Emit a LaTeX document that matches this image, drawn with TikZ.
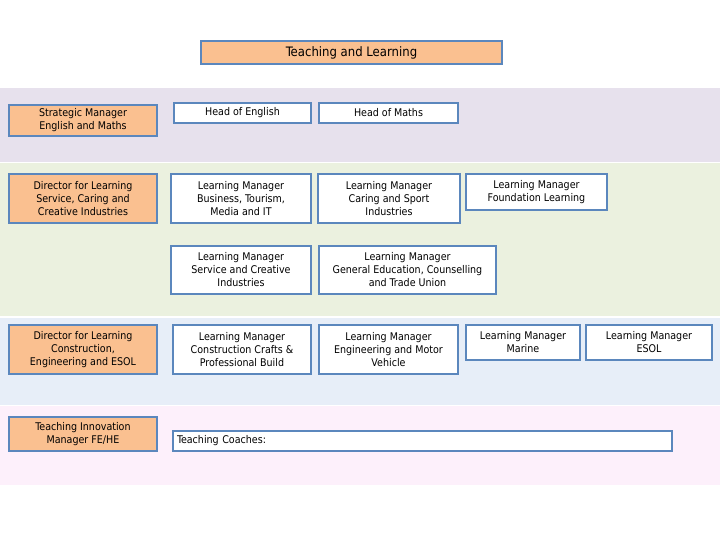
\documentclass[tikz,border=0pt]{standalone}
\usepackage{fontspec}
\setmainfont{DejaVu Sans Condensed}
\definecolor{edge}{HTML}{5B87BD}
\definecolor{peach}{HTML}{FAC090}
\definecolor{lavender}{HTML}{E7E1ED}
\definecolor{mint}{HTML}{EBF1DF}
\definecolor{skyband}{HTML}{E7EEF8}
\definecolor{pinkband}{HTML}{FDF0FB}
\tikzset{
  box/.style={draw=edge, line width=1.2pt, fill=white, align=center, inner sep=1pt,
    font=\fontsize{10.6}{13}\selectfont},
  lead/.style={box, fill=peach},
  band/.style={draw=none}
}
\begin{document}
\begin{tikzpicture}[x=1pt, y=-1pt]
  \useasboundingbox (0,0) rectangle (720,540);
  % background bands
  \fill[lavender] (0,88) rectangle (720,162);
  \fill[mint] (0,163) rectangle (720,316);
  \fill[skyband] (0,318) rectangle (720,405);
  \fill[pinkband] (0,406) rectangle (720,485);

  % title
  \node[lead, minimum width=301, minimum height=23, font=\fontsize{13}{15}\selectfont] (title) at (351.5,52.5) {Teaching and Learning};

  % left column
  \node[lead, minimum width=148, minimum height=31] (strategic) at (83,120.5) {Strategic Manager\\English and Maths};
  \node[lead, minimum width=148, minimum height=49] (dirservice) at (83,198.5) {Director for Learning\\Service, Caring and\\Creative Industries};
  \node[lead, minimum width=148, minimum height=49] (dirconstr) at (83,349.5) {Director for Learning\\Construction,\\Engineering and ESOL};
  \node[lead, minimum width=148, minimum height=34] (innovation) at (83,434) {Teaching Innovation\\Manager FE/HE};

  % first band
  \node[box, minimum width=137, minimum height=20] (english) at (242.5,113) {Head of English};
  \node[box, minimum width=139, minimum height=20] (maths) at (388.5,113) {Head of Maths};

  % second band
  \node[box, minimum width=140, minimum height=49] (business) at (241,198.5) {Learning Manager\\Business, Tourism,\\Media and IT};
  \node[box, minimum width=142, minimum height=49] (caring) at (389,198.5) {Learning Manager\\Caring and Sport\\Industries};
  \node[box, minimum width=141, minimum height=36] (foundation) at (536.5,192) {Learning Manager\\Foundation Learning};
  \node[box, minimum width=140, minimum height=48] (service) at (241,270) {Learning Manager\\Service and Creative\\Industries};
  \node[box, minimum width=177, minimum height=48] (general) at (407.5,270) {Learning Manager\\General Education, Counselling\\and Trade Union};

  % third band
  \node[box, minimum width=138, minimum height=49] (construction) at (242,349.5) {Learning Manager\\Construction Crafts \&\\Professional Build};
  \node[box, minimum width=139, minimum height=49] (engineering) at (388.5,349.5) {Learning Manager\\Engineering and Motor\\Vehicle};
  \node[box, minimum width=114, minimum height=35] (marine) at (523,342.5) {Learning Manager\\Marine};
  \node[box, minimum width=126, minimum height=35] (esol) at (649,342.5) {Learning Manager\\ESOL};

  % fourth band
  \node[box, minimum width=499, minimum height=20, align=left, text width=491] (coaches) at (422.5,441) {Teaching Coaches:};
\end{tikzpicture}
\end{document}
